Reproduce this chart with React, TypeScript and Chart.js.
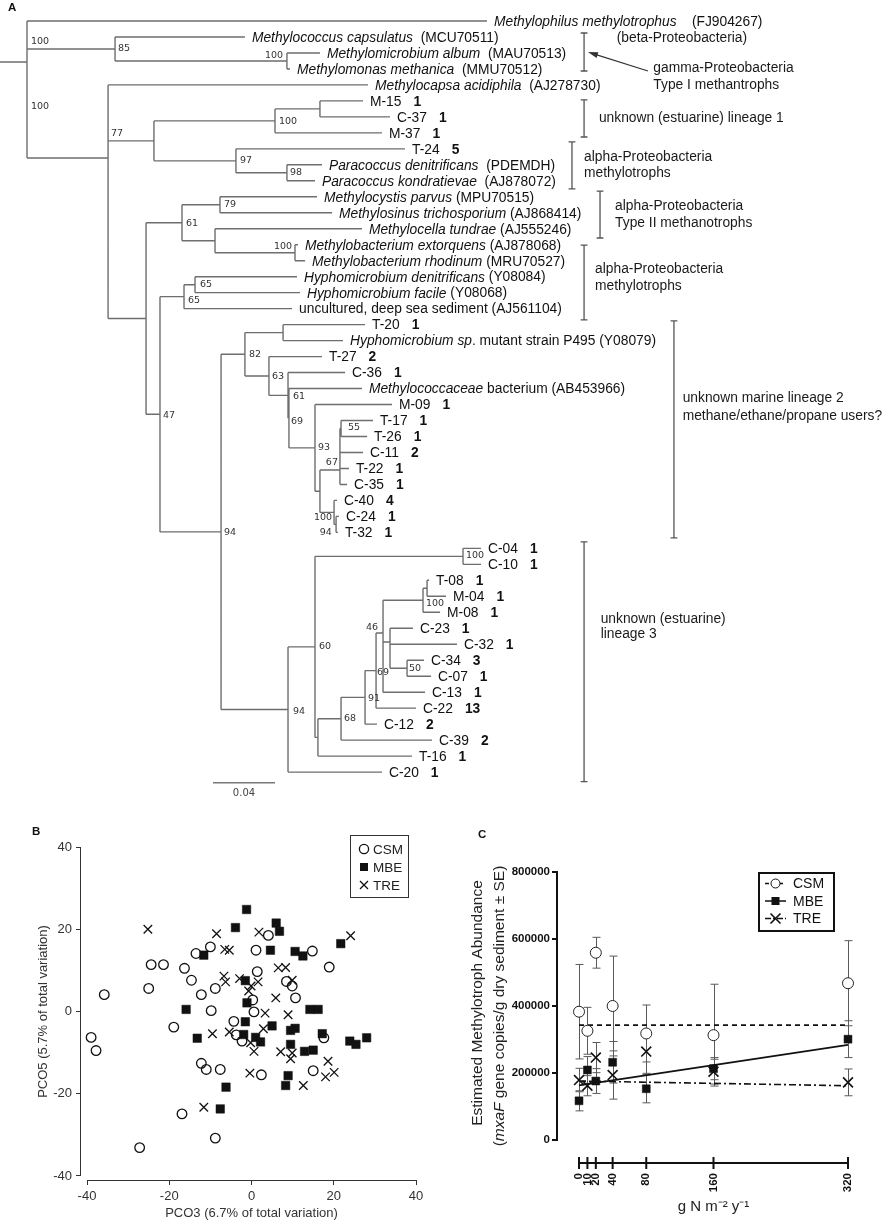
import React, { useEffect, useRef } from 'react';
import { Chart, registerables } from 'chart.js';
Chart.register(...registerables);

const SANS = "'Liberation Sans', Arial, Helvetica, sans-serif";
const NUM = "'DejaVu Sans', Verdana, sans-serif";

/* ======================= Panel A : tree ======================= */
type TNode = { d: number; c?: TNode[]; y?: number };
const N = (d: number, c: TNode[], y?: number): TNode => ({ d, c, y });
const L = (d: number): TNode => ({ d });

// depth = distance from the root node in units of 0.01 substitutions/site
const TREE: TNode = N(0, [
  L(29.68),
  N(5.68, [L(14.06), N(16.77, [L(18.9), L(16.97)])]),
  N(5.23, [
    L(22.0),
    N(8.19, [
      N(16.0, [N(18.9, [L(21.68), L(23.42)]), L(22.9)]),
      N(13.48, [L(24.39), N(16.77, [L(19.03), L(18.58)])]),
    ]),
    N(7.68, [
      N(10.0, [
        N(12.45, [L(18.71), L(19.68)]),
        N(12.13, [L(21.61), N(17.29, [L(17.48), L(17.94)])]),
      ]),
      N(8.58, [
        N(10.13, [N(10.84, [L(17.42), L(17.61)]), L(17.1)]),
        N(12.52, [
          N(14.06, [
            N(16.52, [L(21.81), L(20.39)]),
            N(15.61, [
              L(19.03),
              N(16.84, [
                L(20.52),
                N(16.9, [
                  L(21.61),
                  N(18.58, [
                    L(23.55),
                    N(18.9, [
                      N(20.19, [N(20.26, [L(22.32), L(21.94)]), L(21.68), L(20.77), L(20.65)], 28.1),
                      N(19.81, [L(20.0), N(19.94, [L(20.13), L(20.06)])]),
                    ]),
                  ]),
                ]),
              ]),
            ]),
          ]),
          N(16.84, [
            N(18.58, [
              N(28.13, [L(29.29), L(29.29)]),
              N(18.77, [
                N(20.26, [
                  N(21.81, [
                    N(22.52, [
                      N(22.97, [
                        N(25.55, [N(25.81, [L(25.94), L(27.03)]), L(26.65)]),
                        N(23.42, [L(24.9), L(27.74), N(24.52, [L(25.61), L(26.06)])], 38.86),
                        L(25.68),
                      ], 38.3),
                      L(25.1),
                    ]),
                    L(22.58),
                  ]),
                  L(26.13),
                ]),
                L(24.84),
              ]),
            ]),
            L(22.9),
          ]),
        ]),
      ]),
    ]),
  ], 8.57),
], 2.57);
const ROOT_STUB = -1.74;

// [kind, text, extra]  sp: italic name + plain text, clone: name + bold count, env: plain
const LEAVES: [string, string, string][] = [
  ['sp', 'Methylophilus methylotrophus', '    (FJ904267)'],
  ['sp', 'Methylococcus capsulatus', '  (MCU70511)'],
  ['sp', 'Methylomicrobium album', '  (MAU70513)'],
  ['sp', 'Methylomonas methanica', '  (MMU70512)'],
  ['sp', 'Methylocapsa acidiphila', '  (AJ278730)'],
  ['clone', 'M-15', '1'],
  ['clone', 'C-37', '1'],
  ['clone', 'M-37', '1'],
  ['clone', 'T-24', '5'],
  ['sp', 'Paracoccus denitrificans', '  (PDEMDH)'],
  ['sp', 'Paracoccus kondratievae', '  (AJ878072)'],
  ['sp', 'Methylocystis parvus', ' (MPU70515)'],
  ['sp', 'Methylosinus trichosporium', ' (AJ868414)'],
  ['sp', 'Methylocella tundrae', ' (AJ555246)'],
  ['sp', 'Methylobacterium extorquens', ' (AJ878068)'],
  ['sp', 'Methylobacterium rhodinum', ' (MRU70527)'],
  ['sp', 'Hyphomicrobium denitrificans', ' (Y08084)'],
  ['sp', 'Hyphomicrobium facile', ' (Y08068)'],
  ['env', 'uncultured, deep sea sediment (AJ561104)', ''],
  ['clone', 'T-20', '1'],
  ['sp', 'Hyphomicrobium sp', '. mutant strain P495 (Y08079)'],
  ['clone', 'T-27', '2'],
  ['clone', 'C-36', '1'],
  ['sp', 'Methylococcaceae', ' bacterium (AB453966)'],
  ['clone', 'M-09', '1'],
  ['clone', 'T-17', '1'],
  ['clone', 'T-26', '1'],
  ['clone', 'C-11', '2'],
  ['clone', 'T-22', '1'],
  ['clone', 'C-35', '1'],
  ['clone', 'C-40', '4'],
  ['clone', 'C-24', '1'],
  ['clone', 'T-32', '1'],
  ['clone', 'C-04', '1'],
  ['clone', 'C-10', '1'],
  ['clone', 'T-08', '1'],
  ['clone', 'M-04', '1'],
  ['clone', 'M-08', '1'],
  ['clone', 'C-23', '1'],
  ['clone', 'C-32', '1'],
  ['clone', 'C-34', '3'],
  ['clone', 'C-07', '1'],
  ['clone', 'C-13', '1'],
  ['clone', 'C-22', '13'],
  ['clone', 'C-12', '2'],
  ['clone', 'C-39', '2'],
  ['clone', 'T-16', '1'],
  ['clone', 'C-20', '1'],
];

// bootstrap values: [text, depth, row, anchor side]
const BOOTSTRAP: [string, number, number, string][] = [
  ['100', 0.26, 1.31, 'l'], ['85', 5.87, 1.75, 'l'], ['100', 16.52, 2.13, 'r'],
  ['100', 0.26, 5.38, 'l'], ['77', 5.42, 7.07, 'l'], ['100', 16.26, 6.3, 'l'],
  ['97', 13.74, 8.76, 'l'], ['98', 16.97, 9.51, 'l'], ['79', 12.71, 11.51, 'l'],
  ['61', 10.26, 12.7, 'l'], ['100', 17.1, 14.12, 'r'], ['65', 11.16, 16.52, 'l'],
  ['65', 10.39, 17.5, 'l'], ['47', 8.77, 24.66, 'l'], ['82', 14.32, 20.84, 'l'],
  ['63', 15.81, 22.26, 'l'], ['61', 17.16, 23.51, 'l'], ['69', 17.03, 25.08, 'l'],
  ['93', 18.77, 26.72, 'l'], ['55', 20.71, 25.47, 'l'], ['67', 20.06, 27.64, 'r'],
  ['100', 19.68, 31.08, 'r'], ['94', 19.66, 32.02, 'r'], ['94', 12.71, 32.02, 'l'],
  ['100', 28.32, 33.48, 'l'], ['100', 25.74, 36.48, 'l'], ['60', 18.84, 39.17, 'l'],
  ['46', 22.65, 37.98, 'r'], ['50', 24.65, 40.49, 'l'], ['69', 22.58, 40.74, 'l'],
  ['91', 22.0, 42.37, 'l'], ['68', 20.45, 43.62, 'l'], ['94', 17.16, 43.18, 'l'],
];

// group brackets: [depth, fromRow, toRow]
const BRACKETS: [number, number, number][] = [
  [35.94, 0.75, 3.13], [35.94, 4.94, 7.26], [35.16, 7.57, 10.51], [36.97, 10.64, 13.58],
  [35.94, 14.02, 18.7], [41.74, 18.77, 32.35], [35.94, 32.6, 47.6],
];
const GROUP_TEXT: [string, number, number][] = [
  ['(beta-Proteobacteria)', 38.05, 1.04],
  ['gamma-Proteobacteria', 40.41, 2.86],
  ['Type I methantrophs', 40.41, 3.96],
  ['unknown (estuarine) lineage 1', 36.9, 5.99],
  ['alpha-Proteobacteria', 35.94, 8.49],
  ['methylotrophs', 35.94, 9.49],
  ['alpha-Proteobacteria', 37.94, 11.51],
  ['Type II methanotrophs', 37.94, 12.56],
  ['alpha-Proteobacteria', 36.65, 15.48],
  ['methylotrophs', 36.65, 16.56],
  ['unknown marine lineage 2', 42.3, 23.51],
  ['methane/ethane/propane users?', 42.3, 24.66],
  ['unknown (estuarine)', 37.01, 37.34],
  ['lineage 3', 37.01, 38.32],
];
const ARROW_FROM = [40.06, 3.13];
const ARROW_TO = [36.19, 1.94];
const SCALE_BAR = [12, 16];
const SCALE_BAR_ROW = 47.67;
const SCALE_LABEL = '0.04';

const TREE_X = { min: -1.742, max: 55.42 };
const TREE_Y = { min: -1.314, max: 49.06 };

/* ======================= Panel B : PCO ======================= */
const B_TICKS = [-40, -20, 0, 20, 40];
const CSM_PCO3 = [-35.8, -39.0, -37.8, -27.2, -25.0, -24.4, -21.4, -18.9, -16.9, -16.3, -14.6, -13.5, -12.2, -12.2, -11.0, -10.0, -9.8, -8.8, -8.8, -7.6, -4.3, -3.7, -2.3, 0.3, 0.6, 1.1, 1.4, 2.4, 4.1, 8.5, 9.9, 10.7, 14.8, 15.0, 17.6, 18.9];
const CSM_PCO5 = [4.1, -6.3, -9.5, -33.1, 5.6, 11.4, 11.4, -3.8, -24.9, 10.5, 7.6, 14.1, 4.1, -12.6, -14.1, 15.7, 0.2, 5.6, -30.8, -14.1, -2.4, -5.7, -7.2, 2.8, -0.1, 14.9, 9.7, -15.4, 18.5, 7.3, 6.2, 3.3, 14.7, -14.4, -6.4, 10.8];
const MBE_PCO3 = [-1.2, -3.9, 6.0, 6.8, -11.6, 4.6, 10.6, 12.5, 21.7, -1.5, -1.1, -15.9, -13.2, -1.5, -1.9, 1.0, 2.2, 5.0, 9.5, 10.6, 9.5, 12.9, 15.0, 14.2, 16.2, 17.2, 23.9, 25.4, 28.0, 8.9, 8.3, -6.2, -7.6];
const MBE_PCO5 = [24.8, 20.4, 21.5, 19.5, 13.7, 14.9, 14.6, 13.5, 16.5, 7.5, 2.1, 0.5, -6.5, -2.5, -5.6, -6.3, -7.4, -3.5, -4.6, -4.1, -8.0, -9.7, -9.4, 0.5, 0.5, -5.4, -7.2, -8.0, -6.4, -15.6, -18.0, -18.4, -23.7];
const TRE_PCO3 = [-25.2, -8.5, 1.8, 24.1, -6.5, -5.4, -6.7, -6.3, -2.9, 1.6, -0.7, -0.1, 6.5, 8.3, 9.9, 5.9, 3.3, 8.9, -9.5, -5.4, 2.9, -0.2, 0.6, 7.1, 9.9, 9.5, -0.4, -11.6, 12.6, 18.6, 18.0, 20.1];
const TRE_PCO5 = [20.0, 18.9, 19.3, 18.4, 15.1, 14.9, 8.6, 7.2, 8.0, 7.2, 5.0, 6.2, 10.6, 10.7, 7.6, 3.3, -0.4, -0.8, -5.4, -5.0, -4.2, -7.6, -9.7, -9.8, -10.1, -11.5, -15.0, -23.3, -18.0, -12.1, -15.9, -14.8];

/* ======================= Panel C : abundance ======================= */
const C_N = [0, 10, 20, 40, 80, 160, 320];
const C_Y_TICKS = [0, 200000, 400000, 600000, 800000];
const CSM_MEAN = [383000, 326000, 559000, 400000, 318000, 313000, 468000];
const CSM_SE = [141000, 70000, 46000, 149000, 85000, 152000, 127000];
const MBE_MEAN = [117000, 209000, 176000, 232000, 153000, 213000, 301000];
const MBE_SE = [30000, 40000, 37000, 62000, 42000, 33000, 55000];
const TRE_MEAN = [179000, 162000, 246000, 194000, 264000, 204000, 172000];
const TRE_SE = [35000, 30000, 45000, 72000, 65000, 37000, 40000];
const FIT_X = [0, 320];
const CSM_FIT = [343000, 343000];
const MBE_FIT = [163000, 284000];
const TRE_FIT = [176000, 162000];

const zip = (xs: number[], ys: number[]) => xs.map((x, i) => ({ x, y: ys[i] }));

function layoutTree(root: TNode) {
  const segs: any[] = [];
  const leaves: { x: number; y: number }[] = [];
  let row = 0;
  const visit = (n: TNode): number => {
    if (!n.c) {
      const r = row++;
      leaves.push({ x: n.d, y: r });
      return r;
    }
    const ys = n.c.map(visit);
    const y = n.y !== undefined ? n.y : (ys[0] + ys[ys.length - 1]) / 2;
    segs.push({ x: n.d, y: Math.min(...ys) }, { x: n.d, y: Math.max(...ys) }, { x: null, y: null });
    n.c.forEach((ch, i) => segs.push({ x: n.d, y: ys[i] }, { x: ch.d, y: ys[i] }, { x: null, y: null }));
    return y;
  };
  const ry = visit(root);
  segs.push({ x: ROOT_STUB, y: ry }, { x: root.d, y: ry });
  return { segs, leaves };
}

function bracketSegs() {
  const s: any[] = [];
  const cap = 0.22;
  BRACKETS.forEach(([x, a, b]) => {
    s.push({ x, y: a }, { x, y: b }, { x: null, y: null });
    s.push({ x: x - cap, y: a }, { x: x + cap, y: a }, { x: null, y: null });
    s.push({ x: x - cap, y: b }, { x: x + cap, y: b }, { x: null, y: null });
  });
  return s;
}

const rotText = (ctx: CanvasRenderingContext2D, parts: [string, string][], cx: number, cy: number) => {
  ctx.save();
  ctx.translate(cx, cy);
  ctx.rotate(-Math.PI / 2);
  let total = 0;
  parts.forEach(([t, f]) => { ctx.font = f; total += ctx.measureText(t).width; });
  let x = -total / 2;
  ctx.textAlign = 'left';
  ctx.textBaseline = 'middle';
  parts.forEach(([t, f]) => { ctx.font = f; ctx.fillText(t, x, 0); x += ctx.measureText(t).width; });
  ctx.restore();
};

export default function App() {
  const aRef = useRef<HTMLCanvasElement>(null);
  const bRef = useRef<HTMLCanvasElement>(null);
  const cRef = useRef<HTMLCanvasElement>(null);

  useEffect(() => {
    const { segs, leaves } = layoutTree(TREE);

    const treeText = {
      id: 'treeText',
      afterDatasetsDraw(chart: any) {
        const { ctx } = chart;
        const xs = chart.scales.x, ys = chart.scales.y;
        const X = (v: number) => xs.getPixelForValue(v);
        const Y = (v: number) => ys.getPixelForValue(v);
        ctx.save();
        ctx.textBaseline = 'middle';
        const fs = 13.8;
        leaves.forEach((p, i) => {
          const [kind, a, b] = LEAVES[i];
          let px = X(p.x) + 7;
          const py = Y(p.y) + 1;
          ctx.fillStyle = '#111';
          ctx.textAlign = 'left';
          if (kind === 'sp') {
            ctx.font = `italic ${fs}px ${SANS}`;
            ctx.fillText(a, px, py);
            px += ctx.measureText(a).width;
            ctx.font = `${fs}px ${SANS}`;
            ctx.fillText(b, px, py);
          } else if (kind === 'clone') {
            ctx.font = `${fs}px ${SANS}`;
            ctx.fillText(a, px, py);
            px += ctx.measureText(a).width + 12;
            ctx.font = `bold ${fs}px ${SANS}`;
            ctx.fillText(b, px, py);
          } else {
            ctx.font = `${fs}px ${SANS}`;
            ctx.fillText(a, px, py);
          }
        });
        ctx.font = `9.5px ${NUM}`;
        ctx.fillStyle = '#333';
        BOOTSTRAP.forEach(([t, d, r, side]) => {
          ctx.textAlign = side === 'r' ? 'right' : 'left';
          ctx.fillText(t, X(d), Y(r));
        });
        ctx.font = `${fs}px ${SANS}`;
        ctx.fillStyle = '#1a1a1a';
        ctx.textAlign = 'left';
        GROUP_TEXT.forEach(([t, d, r]) => ctx.fillText(t, X(d), Y(r) + 1));
        // arrow
        const x1 = X(ARROW_FROM[0]), y1 = Y(ARROW_FROM[1]);
        const x2 = X(ARROW_TO[0]), y2 = Y(ARROW_TO[1]);
        const ang = Math.atan2(y2 - y1, x2 - x1);
        ctx.strokeStyle = '#333';
        ctx.lineWidth = 1.2;
        ctx.beginPath();
        ctx.moveTo(x1, y1);
        ctx.lineTo(x2 - 6 * Math.cos(ang), y2 - 6 * Math.sin(ang));
        ctx.stroke();
        ctx.fillStyle = '#333';
        ctx.beginPath();
        ctx.moveTo(x2, y2);
        ctx.lineTo(x2 - 10 * Math.cos(ang) + 3 * Math.sin(ang), y2 - 10 * Math.sin(ang) - 3 * Math.cos(ang));
        ctx.lineTo(x2 - 10 * Math.cos(ang) - 3 * Math.sin(ang), y2 - 10 * Math.sin(ang) + 3 * Math.cos(ang));
        ctx.closePath();
        ctx.fill();
        // scale bar label
        ctx.font = `10px ${NUM}`;
        ctx.fillStyle = '#444';
        ctx.textAlign = 'center';
        ctx.fillText(SCALE_LABEL, X((SCALE_BAR[0] + SCALE_BAR[1]) / 2), Y(SCALE_BAR_ROW) + 11);
        ctx.restore();
      },
    };

    const lineDs = (data: any[], color: string, w: number) => ({
      data, borderColor: color, borderWidth: w, pointRadius: 0, spanGaps: false, tension: 0, fill: false,
    });

    const chartA = new Chart(aRef.current as HTMLCanvasElement, {
      type: 'line',
      data: {
        datasets: [
          lineDs(segs, '#6e6e6e', 1.4),
          lineDs(bracketSegs(), '#555', 1.3),
          lineDs([{ x: SCALE_BAR[0], y: SCALE_BAR_ROW }, { x: SCALE_BAR[1], y: SCALE_BAR_ROW }], '#777', 1.6),
        ] as any,
      },
      options: {
        responsive: false,
        animation: false,
        events: [],
        layout: { padding: 0 },
        plugins: { legend: { display: false }, tooltip: { enabled: false } },
        scales: {
          x: { type: 'linear', display: false, min: TREE_X.min, max: TREE_X.max },
          y: { type: 'linear', display: false, min: TREE_Y.min, max: TREE_Y.max, reverse: true },
        },
      } as any,
      plugins: [treeText],
    });

    /* ---------- B ---------- */
    const tickFontB = { family: SANS, size: 13 };
    const pcoPlugin = {
      id: 'pcoDeco',
      afterDraw(chart: any) {
        const { ctx, chartArea } = chart;
        const xs = chart.scales.x, ys = chart.scales.y;
        ctx.save();
        ctx.strokeStyle = '#333';
        ctx.lineWidth = 1;
        ctx.beginPath();
        ctx.moveTo(xs.getPixelForValue(-40), chartArea.bottom + 0.5);
        ctx.lineTo(xs.getPixelForValue(40), chartArea.bottom + 0.5);
        ctx.moveTo(chartArea.left - 0.5, ys.getPixelForValue(40));
        ctx.lineTo(chartArea.left - 0.5, ys.getPixelForValue(-40));
        ctx.stroke();
        ctx.fillStyle = '#333';
        ctx.font = `13px ${SANS}`;
        ctx.textAlign = 'center';
        ctx.textBaseline = 'middle';
        ctx.fillText('PCO3 (6.7% of total variation)', (xs.getPixelForValue(-40) + xs.getPixelForValue(40)) / 2, 393);
        rotText(ctx, [['PCO5 (5.7% of total variation)', `13px ${SANS}`]], 43, (ys.getPixelForValue(40) + ys.getPixelForValue(-40)) / 2);
        // legend
        ctx.strokeStyle = '#333';
        ctx.lineWidth = 1;
        ctx.strokeRect(350.5, 15.5, 58, 62);
        const items = ['CSM', 'MBE', 'TRE'];
        const ly = [29, 47, 65];
        items.forEach((t, i) => {
          const cx = 364, cy = ly[i];
          ctx.strokeStyle = '#111';
          ctx.fillStyle = '#111';
          ctx.lineWidth = 1.3;
          if (i === 0) { ctx.beginPath(); ctx.arc(cx, cy, 4.6, 0, Math.PI * 2); ctx.stroke(); }
          if (i === 1) ctx.fillRect(cx - 4, cy - 4, 8, 8);
          if (i === 2) {
            ctx.beginPath();
            ctx.moveTo(cx - 4, cy - 4); ctx.lineTo(cx + 4, cy + 4);
            ctx.moveTo(cx + 4, cy - 4); ctx.lineTo(cx - 4, cy + 4);
            ctx.stroke();
          }
          ctx.fillStyle = '#222';
          ctx.font = `13.5px ${SANS}`;
          ctx.textAlign = 'left';
          ctx.fillText(t, 373, cy + 1);
        });
        ctx.restore();
      },
    };

    const chartB = new Chart(bRef.current as HTMLCanvasElement, {
      type: 'scatter',
      data: {
        datasets: [
          { label: 'CSM', data: zip(CSM_PCO3, CSM_PCO5), pointStyle: 'circle', pointRadius: 4.8, pointBackgroundColor: 'rgba(0,0,0,0)', pointBorderColor: '#111', pointBorderWidth: 1.3, clip: false },
          { label: 'MBE', data: zip(MBE_PCO3, MBE_PCO5), pointStyle: 'rect', pointRadius: 6, pointBackgroundColor: '#111', pointBorderColor: '#111', pointBorderWidth: 0.5, clip: false },
          { label: 'TRE', data: zip(TRE_PCO3, TRE_PCO5), pointStyle: 'crossRot', pointRadius: 6, pointBorderColor: '#111', pointBorderWidth: 1.3, clip: false },
        ] as any,
      },
      options: {
        responsive: false,
        animation: false,
        events: [],
        layout: { padding: { top: 27, right: 24, left: 0, bottom: 0 } },
        plugins: { legend: { display: false }, tooltip: { enabled: false } },
        scales: {
          x: {
            type: 'linear', min: -41.46, max: 40,
            afterBuildTicks: (s: any) => { s.ticks = B_TICKS.map((v) => ({ value: v })); },
            afterFit: (s: any) => { s.height = 45; },
            grid: { display: true, drawOnChartArea: false, drawTicks: true, tickLength: 5, color: '#333', lineWidth: 1 },
            border: { display: false },
            ticks: { font: tickFontB, color: '#333', padding: 4, maxRotation: 0, callback: (v: any) => String(v) },
          },
          y: {
            type: 'linear', min: -40.98, max: 40,
            afterBuildTicks: (s: any) => { s.ticks = B_TICKS.map((v) => ({ value: v })); },
            afterFit: (s: any) => { s.width = 81; },
            grid: { display: true, drawOnChartArea: false, drawTicks: true, tickLength: 5, color: '#333', lineWidth: 1 },
            border: { display: false },
            ticks: { font: tickFontB, color: '#333', padding: 4, callback: (v: any) => String(v) },
          },
        },
      } as any,
      plugins: [pcoPlugin],
    });

    /* ---------- C ---------- */
    const boldTick = { family: SANS, size: 11.5, weight: 'bold' };
    const series: [number[], number[]][] = [[CSM_MEAN, CSM_SE], [MBE_MEAN, MBE_SE], [TRE_MEAN, TRE_SE]];
    const abPlugin = {
      id: 'abDeco',
      beforeDatasetsDraw(chart: any) {
        const { ctx } = chart;
        const xs = chart.scales.x, ys = chart.scales.y;
        ctx.save();
        ctx.strokeStyle = '#5a5a5a';
        ctx.lineWidth = 1;
        series.forEach(([m, se]) => {
          C_N.forEach((n, i) => {
            const px = Math.round(xs.getPixelForValue(n)) + 0.5;
            const t = ys.getPixelForValue(m[i] + se[i]);
            const b = ys.getPixelForValue(m[i] - se[i]);
            ctx.beginPath();
            ctx.moveTo(px, t); ctx.lineTo(px, b);
            ctx.moveTo(px - 4, t); ctx.lineTo(px + 4, t);
            ctx.moveTo(px - 4, b); ctx.lineTo(px + 4, b);
            ctx.stroke();
          });
        });
        ctx.restore();
      },
      afterDraw(chart: any) {
        const { ctx, chartArea } = chart;
        const xs = chart.scales.x, ys = chart.scales.y;
        ctx.save();
        ctx.strokeStyle = '#111';
        ctx.lineWidth = 2;
        // y axis line
        ctx.beginPath();
        ctx.moveTo(chartArea.left - 1, ys.getPixelForValue(0) + 1);
        ctx.lineTo(chartArea.left - 1, ys.getPixelForValue(800000) - 1);
        ctx.stroke();
        // x axis line with crossing ticks
        const yb = chartArea.bottom;
        const x0 = xs.getPixelForValue(C_N[0]), x1 = xs.getPixelForValue(C_N[C_N.length - 1]);
        ctx.beginPath();
        ctx.moveTo(x0 - 1, yb); ctx.lineTo(x1 + 1, yb);
        C_N.forEach((n) => {
          const px = xs.getPixelForValue(n);
          ctx.moveTo(px, yb - 6); ctx.lineTo(px, yb + 6);
        });
        ctx.stroke();
        // titles
        ctx.fillStyle = '#222';
        ctx.textAlign = 'center';
        ctx.textBaseline = 'middle';
        ctx.font = `15px ${SANS}`;
        ctx.fillText('g N m\u207B\u00B2 y\u207B\u00B9', (x0 + x1) / 2, 387);
        const cy = (ys.getPixelForValue(0) + ys.getPixelForValue(800000)) / 2 - 3;
        rotText(ctx, [['Estimated Methylotroph Abundance', `15.5px ${SANS}`]], 38, cy);
        rotText(ctx, [['(', `15.5px ${SANS}`], ['mxaF', `italic 15.5px ${SANS}`], [' gene copies/g dry sediment \u00B1 SE)', `15.5px ${SANS}`]], 60, cy + 3);
        // legend
        ctx.lineWidth = 2;
        ctx.strokeStyle = '#111';
        ctx.strokeRect(319, 53, 75, 58);
        const names = ['CSM', 'MBE', 'TRE'];
        const dashes = [[4, 3], [], [6, 2, 2, 2]];
        const ly = [63.5, 81, 98.5];
        names.forEach((t, i) => {
          const y = ly[i];
          ctx.strokeStyle = '#111';
          ctx.lineWidth = 1.5;
          ctx.setLineDash(dashes[i]);
          ctx.beginPath(); ctx.moveTo(325, y); ctx.lineTo(346, y); ctx.stroke();
          ctx.setLineDash([]);
          const cx = 335.5;
          if (i === 0) { ctx.fillStyle = '#fff'; ctx.beginPath(); ctx.arc(cx, y, 4.5, 0, Math.PI * 2); ctx.fill(); ctx.lineWidth = 1; ctx.stroke(); }
          if (i === 1) { ctx.fillStyle = '#111'; ctx.fillRect(cx - 4, y - 4, 8, 8); }
          if (i === 2) {
            ctx.lineWidth = 1.6;
            ctx.beginPath();
            ctx.moveTo(cx - 5, y - 5); ctx.lineTo(cx + 5, y + 5);
            ctx.moveTo(cx + 5, y - 5); ctx.lineTo(cx - 5, y + 5);
            ctx.stroke();
          }
          ctx.fillStyle = '#111';
          ctx.font = `14px ${SANS}`;
          ctx.textAlign = 'left';
          ctx.fillText(t, 353, y + 1);
        });
        ctx.restore();
      },
    };

    const fitDs = (ys: number[], dash: number[]) => ({
      type: 'line', data: zip(FIT_X, ys), showLine: true, borderColor: '#111', borderWidth: 1.6,
      borderDash: dash, pointRadius: 0, fill: false, order: 2, clip: false,
    });

    const chartC = new Chart(cRef.current as HTMLCanvasElement, {
      type: 'scatter',
      data: {
        datasets: [
          { label: 'CSM', data: zip(C_N, CSM_MEAN), pointStyle: 'circle', pointRadius: 5.5, pointBackgroundColor: '#fff', pointBorderColor: '#222', pointBorderWidth: 1, order: 0, clip: false },
          { label: 'MBE', data: zip(C_N, MBE_MEAN), pointStyle: 'rect', pointRadius: 5.6, pointBackgroundColor: '#111', pointBorderColor: '#111', pointBorderWidth: 0.5, order: 0, clip: false },
          { label: 'TRE', data: zip(C_N, TRE_MEAN), pointStyle: 'crossRot', pointRadius: 7, pointBorderColor: '#111', pointBorderWidth: 1.6, order: 0, clip: false },
          fitDs(CSM_FIT, [5, 4]),
          fitDs(MBE_FIT, []),
          fitDs(TRE_FIT, [7, 3, 2, 3]),
        ] as any,
      },
      options: {
        responsive: false,
        animation: false,
        events: [],
        layout: { padding: { top: 52, right: 38, left: 0, bottom: 0 } },
        plugins: { legend: { display: false }, tooltip: { enabled: false } },
        scales: {
          x: {
            type: 'linear', min: -25, max: 320,
            afterBuildTicks: (s: any) => { s.ticks = C_N.map((v) => ({ value: v })); },
            afterFit: (s: any) => { s.height = 62; },
            grid: { display: false, drawTicks: false, tickLength: 0 },
            border: { display: false },
            ticks: { autoSkip: false, minRotation: 90, maxRotation: 90, padding: 10, font: boldTick, color: '#111', callback: (v: any) => String(v) },
          },
          y: {
            type: 'linear', min: -68657, max: 800000,
            afterBuildTicks: (s: any) => { s.ticks = C_Y_TICKS.map((v) => ({ value: v })); },
            afterFit: (s: any) => { s.width = 118; },
            grid: { display: true, drawOnChartArea: false, drawTicks: true, tickLength: 6, color: '#111', lineWidth: 2 },
            border: { display: false },
            ticks: { padding: 2, font: boldTick, color: '#111', callback: (v: any) => String(v) },
          },
        },
      } as any,
      plugins: [abPlugin],
    });

    return () => { chartA.destroy(); chartB.destroy(); chartC.destroy(); };
  }, []);

  const letter = (t: string, left: number, top: number) => (
    <div style={{ position: 'absolute', left, top, font: `bold 11.5px ${SANS}`, lineHeight: '14px', color: '#111' }}>{t}</div>
  );

  return (
    <div style={{ position: 'absolute', left: 0, top: 0, width: 886, height: 1225, background: '#fff', overflow: 'hidden' }}>
      <canvas ref={aRef} width={886} height={805} style={{ position: 'absolute', left: 0, top: 0, width: 886, height: 805 }} />
      <canvas ref={bRef} width={440} height={405} style={{ position: 'absolute', left: 0, top: 820, width: 440, height: 405 }} />
      <canvas ref={cRef} width={446} height={405} style={{ position: 'absolute', left: 440, top: 820, width: 446, height: 405 }} />
      {letter('A', 8, 0)}
      {letter('B', 32, 824)}
      {letter('C', 478, 827)}
    </div>
  );
}
